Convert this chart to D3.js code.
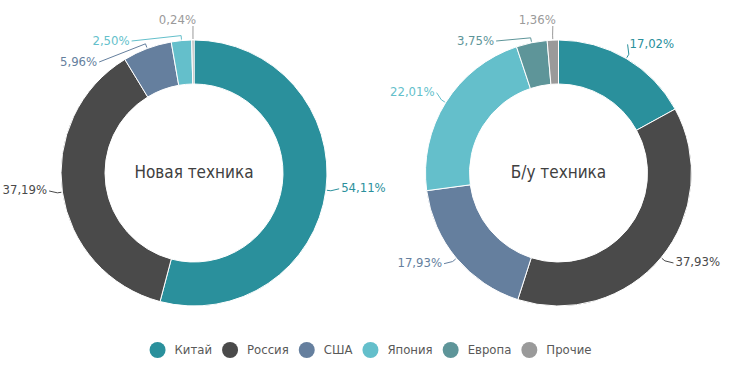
<!DOCTYPE html>
<html>
<head>
<meta charset="utf-8">
<script src="https://cdn.jsdelivr.net/npm/d3@7"></script>
<style>
  body { margin: 0; background: #fff; }
  svg text { font-family: "DejaVu Sans Condensed", "Roboto", sans-serif; }
</style>
</head>
<body>
<div id="chart"></div>
<script>
const categories = ['Китай', 'Россия', 'США', 'Япония', 'Европа', 'Прочие'];
const colors = ['#2a909c', '#4a4a4a', '#657f9e', '#64bfcb', '#5e9599', '#9a9a9a'];
const titles = ['Новая техника', 'Б/у техника'];
const newValues = [54.11, 37.19, 5.96, 2.50, 0, 0.24];
const usedValues = [17.02, 37.93, 17.93, 22.01, 3.75, 1.36];

const width = 741;
const height = 374;
const outerR = 133;
const innerR = 89;
const cy = 173;

const svg = d3.select('#chart')
  .append('svg')
  .attr('width', width)
  .attr('height', height);

const color = d3.scaleOrdinal().domain(categories).range(colors);
const fmt = v => d3.format('.2f')(v).replace('.', ',') + '%';

const pie = d3.pie().sort(null).value(d => d.value);
const arc = d3.arc().innerRadius(innerR).outerRadius(outerR);

const donut = (values, title, cx) => {
  const g = svg.append('g').attr('transform', `translate(${cx},${cy})`);
  const data = pie(categories.map((c, i) => ({ name: c, value: values[i] })));

  g.selectAll('path')
    .data(data)
    .join('path')
    .attr('d', arc)
    .attr('fill', d => color(d.data.name))
    .attr('stroke', '#fff')
    .attr('stroke-width', 1);

  g.append('text')
    .attr('text-anchor', 'middle')
    .attr('dominant-baseline', 'middle')
    .attr('font-size', 17)
    .attr('fill', '#404040')
    .text(title);

  // label positions: natural spot on a ring, then push apart on each side
  const rl = 146;
  const labels = data.filter(d => d.data.value > 0).map(d => {
    const a = (d.startAngle + d.endAngle) / 2;
    return { d, a, side: Math.sin(a) >= 0 ? 1 : -1, y: -rl * Math.cos(a) - 3 };
  });
  [1, -1].forEach(s => {
    const list = labels.filter(l => l.side === s).sort((p, q) => p.y - q.y);
    for (let k = 0; k < 50; k++) {
      for (let i = 1; i < list.length; i++) {
        const gap = list[i].y - list[i - 1].y;
        if (gap < 21) {
          const m = (21 - gap) / 2;
          list[i - 1].y -= m;
          list[i].y += m;
        }
      }
      if (list.length && list[0].y < 20 - cy) {
        list[0].y = 20 - cy;
        for (let i = 1; i < list.length; i++) {
          if (list[i].y < list[i - 1].y + 21) list[i].y = list[i - 1].y + 21;
        }
      }
    }
  });

  labels.forEach(l => {
    if (Math.abs(l.y) < rl - 8) {
      l.top = false;
      l.x = l.side * Math.sqrt(rl * rl - l.y * l.y);
      l.ex = l.x;
      l.ey = l.y;
      l.tx = l.x + l.side * 2;
    } else {
      l.top = true;
      l.x = outerR * Math.sin(l.a);
      l.ex = l.x;
      l.ey = l.y + 6;
      l.tx = l.x + 3;
    }
  });

  g.selectAll('polyline')
    .data(labels)
    .join('polyline')
    .attr('fill', 'none')
    .attr('stroke', l => color(l.d.data.name))
    .attr('stroke-width', 1)
    .attr('points', l => {
      const p0 = [(outerR + 1) * Math.sin(l.a), -(outerR + 1) * Math.cos(l.a)];
      const p1 = [(outerR + 5) * Math.sin(l.a), -(outerR + 5) * Math.cos(l.a)];
      return [p0, p1, [l.ex, l.ey]].map(p => p.join(',')).join(' ');
    });

  g.selectAll('text.lbl')
    .data(labels)
    .join('text')
    .attr('class', 'lbl')
    .attr('x', l => l.tx)
    .attr('y', l => l.y)
    .attr('text-anchor', l => (l.top || l.side < 0) ? 'end' : 'start')
    .attr('dominant-baseline', 'middle')
    .attr('font-size', 13)
    .attr('fill', l => color(l.d.data.name))
    .text(l => fmt(l.d.data.value));
};

donut(newValues, titles[0], 194);
donut(usedValues, titles[1], 558.5);

// legend
const legend = svg.append('g').attr('transform', `translate(0,350)`);
const items = legend.selectAll('g')
  .data(categories)
  .join('g');
items.append('circle')
  .attr('r', 8)
  .attr('fill', d => color(d));
items.append('text')
  .attr('x', 17)
  .attr('dominant-baseline', 'middle')
  .attr('font-size', 13)
  .attr('fill', '#595959')
  .text(d => d);
let x = 0;
const pos = [];
items.each(function() {
  const w = this.querySelector('text').getComputedTextLength();
  pos.push(x);
  x += 17 + w + 18;
});
const total = x - 18 + 8;
const start = (width - total) / 2 + 8;
items.attr('transform', (d, i) => `translate(${start + pos[i]},0)`);
</script>
</body>
</html>
